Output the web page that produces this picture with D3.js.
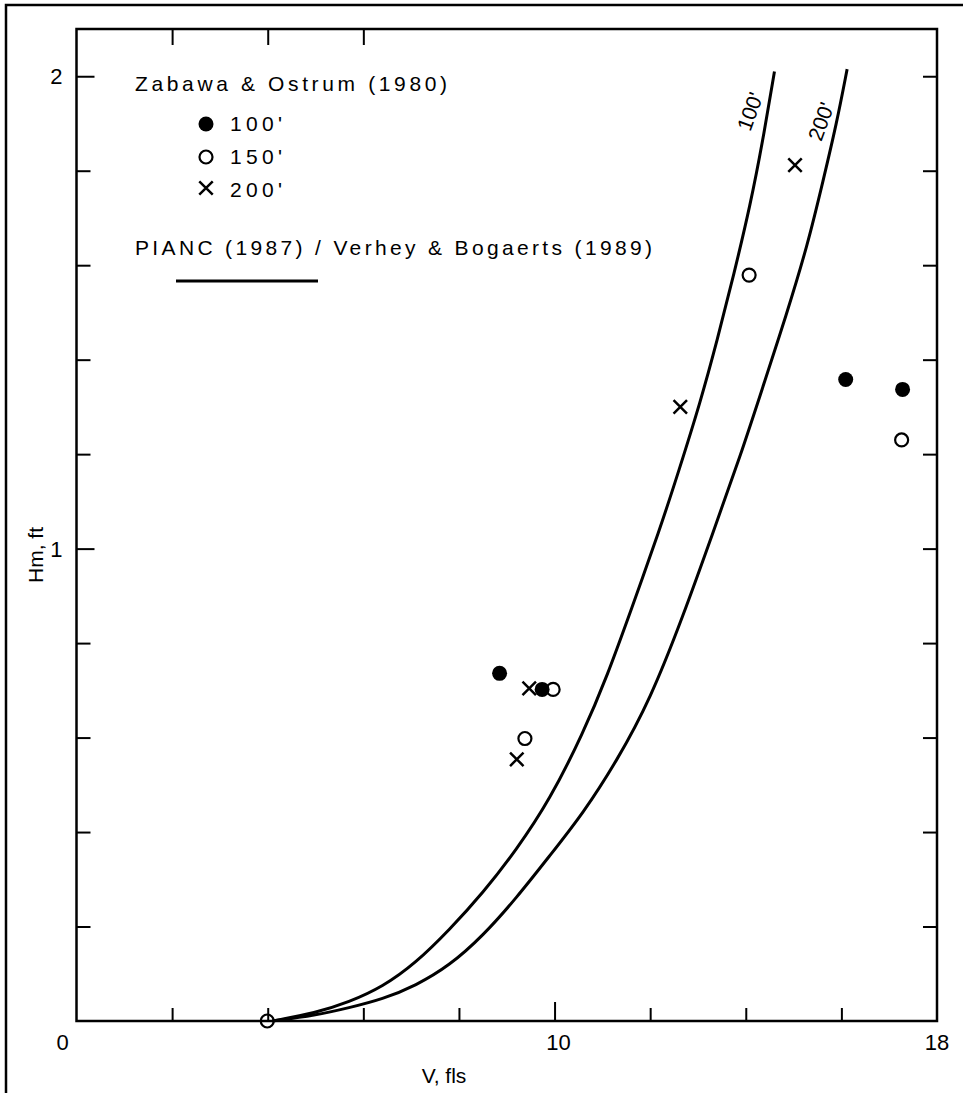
<!DOCTYPE html>
<meta charset="utf-8">
<html>
<head>
<style>
	body { margin: 0; background: #fff; }
	text { font-family: "Liberation Sans", Arial, sans-serif; fill: #000; }
</style>
</head>
<body>
<script src="https://d3js.org/d3.v7.min.js"></script>
<script>

var curve100 = [[4.1,0],[5.0,0.017],[5.7,0.04],[6.4,0.072],[7.1,0.123],[7.8,0.193],[8.5,0.271],[9.2,0.362],
	[9.9,0.468],[10.6,0.61],[11.1,0.73],[11.6,0.87],[12.2,1.04],[12.6,1.165],[13.05,1.31],[13.4,1.44],
	[13.75,1.58],[14.1,1.73],[14.35,1.86],[14.6,2.01]];
var curve200 = [[4.1,0],[5.0,0.012],[5.7,0.028],[6.4,0.046],[7.1,0.075],[7.8,0.117],[8.5,0.18],[9.2,0.26],
	[9.9,0.35],[10.6,0.44],[11.3,0.55],[12.0,0.68],[12.7,0.86],[13.3,1.03],[13.9,1.2],[14.35,1.34],
	[14.85,1.495],[15.3,1.645],[15.62,1.78],[15.9,1.9],[16.12,2.015]];

var pts100 = [[8.85,0.736],[9.74,0.702],[16.09,1.358],[17.28,1.337]];
var pts150 = [[3.99,0],[9.38,0.598],[9.97,0.702],[14.07,1.579],[17.26,1.23]];
var pts200 = [[9.21,0.554],[9.47,0.704],[12.63,1.30],[15.03,1.812]];

var xTicks = [2,4,6,8,10,12,14,16];
var xTopTicks = [2,4,6];
var yTicks = [0.2,0.4,0.6,0.8,1,1.2,1.4,1.6,1.8,2];
var xLabels = [0,10,18];
var yLabels = [1,2];

var W = 963, H = 1093;

var svg = d3.select("body").append("svg")
	.attr("width", W)
	.attr("height", H);

svg.append("rect").attr("width", W).attr("height", H).attr("fill", "#fff");

/* outer frame of the scan : only top and left */
svg.append("path")
	.attr("d", "M6,1093 V5 H963")
	.attr("fill", "none")
	.attr("stroke", "#000")
	.attr("stroke-width", 2.5);

var x = d3.scaleLinear().domain([0,18]).range([76.5,937]);
var y = d3.scaleLinear().domain([0,2.1]).range([1021,29]);

/* ticks, all pointing inward */
var bottom = svg.append("g")
	.attr("transform", "translate(0," + y(0) + ")")
	.call(d3.axisBottom(x).tickValues(xTicks).tickSize(-13).tickFormat(""));
bottom.selectAll(".tick line").filter(function(d) { return d == 10; }).attr("y2", -19);

svg.append("g")
	.attr("transform", "translate(0," + y(2.1) + ")")
	.call(d3.axisTop(x).tickValues(xTopTicks).tickSize(-16).tickFormat(""));

var left = svg.append("g")
	.attr("transform", "translate(" + x(0) + ",0)")
	.call(d3.axisLeft(y).tickValues(yTicks).tickSize(-14).tickFormat(""));
left.selectAll(".tick line").filter(function(d) { return d == 1 || d == 2; }).attr("x2", 18);

svg.append("g")
	.attr("transform", "translate(" + x(18) + ",0)")
	.call(d3.axisRight(y).tickValues(yTicks).tickSize(-14).tickFormat(""));

svg.selectAll(".domain").remove();
svg.selectAll(".tick line").attr("stroke", "#000").attr("stroke-width", 2);

/* plot frame */
svg.append("rect")
	.attr("x", x(0))
	.attr("y", y(2.1))
	.attr("width", x(18) - x(0))
	.attr("height", y(0) - y(2.1))
	.attr("fill", "none")
	.attr("stroke", "#000")
	.attr("stroke-width", 2.5);

/* tick labels */
svg.selectAll(".xlab")
	.data(xLabels)
	.enter().append("text")
	.attr("class", "xlab")
	.attr("x", function(d) { return d == 0 ? x(d) - 14 : d == 10 ? x(d) + 4 : x(d); })
	.attr("y", 1050)
	.attr("text-anchor", "middle")
	.style("font-size", "22px")
	.text(function(d) { return d; });

svg.selectAll(".ylab")
	.data(yLabels)
	.enter().append("text")
	.attr("class", "ylab")
	.attr("x", x(0) - 14)
	.attr("y", function(d) { return y(d) + 8; })
	.attr("text-anchor", "end")
	.style("font-size", "22px")
	.text(function(d) { return d; });

svg.append("text")
	.attr("x", 444)
	.attr("y", 1083)
	.attr("text-anchor", "middle")
	.style("font-size", "21px")
	.text("V, fls");

svg.append("text")
	.attr("transform", "translate(43,555) rotate(-90)")
	.attr("text-anchor", "middle")
	.style("font-size", "21px")
	.text("Hm, ft");

/* PIANC curves */
var line = d3.line()
	.x(function(d) { return x(d[0]); })
	.y(function(d) { return y(d[1]); })
	.curve(d3.curveBasis);

[curve100, curve200].forEach(function(c) {
	svg.append("path")
		.datum(c)
		.attr("d", line)
		.attr("fill", "none")
		.attr("stroke", "#000")
		.attr("stroke-width", 3);
});

svg.append("text")
	.attr("transform", "translate(757,114) rotate(-70)")
	.attr("text-anchor", "middle")
	.style("font-size", "21px")
	.text("100'");
svg.append("text")
	.attr("transform", "translate(828,124) rotate(-70)")
	.attr("text-anchor", "middle")
	.style("font-size", "21px")
	.text("200'");

/* Zabawa & Ostrum points */
svg.selectAll(".p100")
	.data(pts100)
	.enter().append("circle")
	.attr("cx", function(d) { return x(d[0]); })
	.attr("cy", function(d) { return y(d[1]); })
	.attr("r", 7.5)
	.attr("fill", "#000");

svg.selectAll(".p150")
	.data(pts150)
	.enter().append("circle")
	.attr("cx", function(d) { return x(d[0]); })
	.attr("cy", function(d) { return y(d[1]); })
	.attr("r", 6.5)
	.attr("fill", "none")
	.attr("stroke", "#000")
	.attr("stroke-width", 2.2);

var cross = d3.symbol().type(d3.symbolX).size(120);
svg.selectAll(".p200")
	.data(pts200)
	.enter().append("path")
	.attr("transform", function(d) { return "translate(" + x(d[0]) + "," + y(d[1]) + ")"; })
	.attr("d", cross)
	.attr("fill", "none")
	.attr("stroke", "#000")
	.attr("stroke-width", 2.5);

/* legend */
svg.append("text")
	.attr("x", 135).attr("y", 91)
	.attr("textLength", 312).attr("lengthAdjust", "spacing")
	.style("font-size", "21px")
	.text("Zabawa & Ostrum (1980)");

svg.append("circle").attr("cx", 206).attr("cy", 124).attr("r", 7.5).attr("fill", "#000");
svg.append("circle").attr("cx", 206).attr("cy", 157).attr("r", 6.5)
	.attr("fill", "none").attr("stroke", "#000").attr("stroke-width", 2.2);
svg.append("path").attr("transform", "translate(206,188)").attr("d", cross)
	.attr("fill", "none").attr("stroke", "#000").attr("stroke-width", 2.5);

var legLabels = ["100'", "150'", "200'"];
svg.selectAll(".leg")
	.data(legLabels)
	.enter().append("text")
	.attr("x", 230)
	.attr("y", function(d, i) { return 131 + i * 33; })
	.attr("textLength", 52).attr("lengthAdjust", "spacing")
	.style("font-size", "21px")
	.text(function(d) { return d; });

svg.append("text")
	.attr("x", 135).attr("y", 255)
	.attr("textLength", 517).attr("lengthAdjust", "spacing")
	.style("font-size", "21px")
	.text("PIANC (1987) / Verhey & Bogaerts (1989)");

svg.append("line")
	.attr("x1", 176).attr("x2", 318)
	.attr("y1", 281).attr("y2", 281)
	.attr("stroke", "#000")
	.attr("stroke-width", 3);

</script>
</body>
</html>
